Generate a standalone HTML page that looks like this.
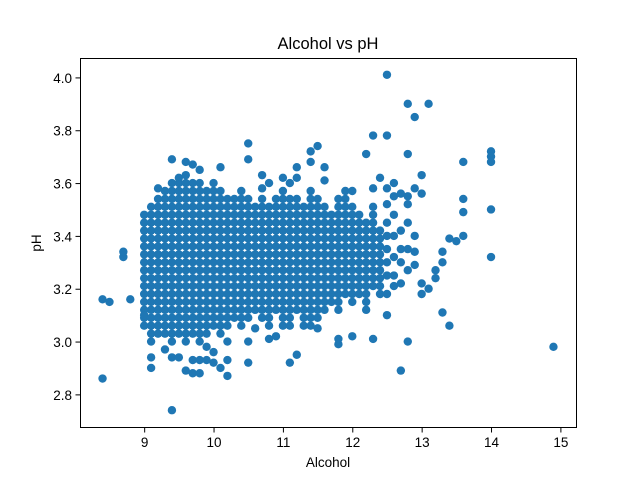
<!DOCTYPE html>
<html><head><meta charset="utf-8"><style>
body{margin:0;background:#fff}
svg{display:block;font-family:"Liberation Sans","DejaVu Sans",sans-serif}
</style></head><body>
<svg id="chart" width="640" height="480">
<rect width="640" height="480" fill="#fff"/>
<text x="328" y="49" font-size="16.5" text-anchor="middle">Alcohol vs pH</text>
<g id="marks"></g>
<rect x="80.5" y="58.5" width="496" height="369" fill="none" stroke="#000" stroke-width="1"/>
<g id="axes"></g>
<text x="328" y="467" font-size="13.5" text-anchor="middle">Alcohol</text>
<text transform="translate(41,243) rotate(-90)" font-size="13.5" text-anchor="middle">pH</text>
</svg>
<script>
const xTicks=[9,10,11,12,13,14,15];
const yTicks=[2.8,3.0,3.2,3.4,3.6,3.8,4.0];
const M=[300,303,306,309,312,315,318,321,324,327,330,333,336,339,342,345,348,351,354,357,360,363,366];
const alcoholCols=[8.4,8.5,8.7,8.8,9.0,9.1,9.2,9.3,9.4,9.5,9.6,9.7,9.8,9.9,10.0,10.1,10.2,10.3,10.4,10.5,10.6,10.7,10.8,10.9,11.0,11.1,11.2,11.3,11.4,11.5,11.6,11.7,11.8,11.9,12.0,12.1,12.2,12.3,12.4,12.5,12.6,12.7,12.8,12.9,13.0,13.1,13.2,13.3,13.4,13.5,13.6,14.0,14.9];
const pHCols=[
[286,316],[315],[332,334],[316],
M.slice(2,17).concat([310]),M.slice(0,18).concat([290,294]),M.slice(1,19).concat([358]),M.slice(1,20).concat([297]),
M.slice(0,21).concat([369,274,294]),M.slice(1,21).concat([362,294]),M.slice(0,22).concat([289,368]),M.slice(1,21).concat([367,288,293]),
M.slice(0,21).concat([365,288,293]),M.slice(1,20).concat([293,298]),M.slice(2,21).concat([296,292]),M.slice(1,20).concat([290,366]),
M.slice(2,19).concat([287,293,300]),M.slice(3,19),M.slice(2,20),M.slice(3,19).concat([292,369,375,300]),M.slice(4,18).concat([305]),
M.slice(3,19).concat([358,363]),M.slice(2,18).concat([301,360]),M.slice(4,19).concat([302]),M.slice(3,20).concat([362,306]),
M.slice(2,19).concat([292,360]),M.slice(4,19).concat([295,366,362]),M.slice(3,18).concat([306]),M.slice(2,20).concat([372,368]),
M.slice(3,19).concat([374,305]),M.slice(4,18).concat([366,361]),M.slice(5,17),M.slice(4,19).concat([299,301]),M.slice(6,20),
M.slice(5,18).concat([302,357]),M.slice(6,17),M.slice(4,16).concat([371]),M.slice(7,18).concat([378,301,358]),M.slice(6,15).concat([362]),
[401,378,358,352,345,340,330,318,310,325,335],[360,355,348,340,332,325,321],[289,356,342,330,322,335],
[390,371,300,352,345,335,327,355],[385,358,340,334,329],[363,356,322,318],[390,320],[324,327],[334,330,311],[306,339],[338],
[368,354,349,340],[372,370,368,350,332],[298]];
const L=80,R=576,T=58,Bt=427,x0=8.075,x1=15.225,y0=2.6765,y1=4.0735;
const sx=v=>L+(v-x0)/(x1-x0)*(R-L);
const sy=v=>Bt-(v-y0)/(y1-y0)*(Bt-T);
const NS="http://www.w3.org/2000/svg";
const marks=document.getElementById('marks');
alcoholCols.forEach((a,i)=>{pHCols[i].forEach(p=>{
 const c=document.createElementNS(NS,'circle');
 c.setAttribute('cx',sx(a));c.setAttribute('cy',sy(p/100));c.setAttribute('r',4.2);c.setAttribute('fill','#1f77b4');
 
 
 marks.appendChild(c);});});
const ax=document.getElementById('axes');
xTicks.forEach(t=>{const x=sx(t)+0.5;
 const l=document.createElementNS(NS,'line');l.setAttribute('x1',x);l.setAttribute('x2',x);l.setAttribute('y1',427.5);l.setAttribute('y2',432.5);l.setAttribute('stroke','#000');
 
 
 ax.appendChild(l);
 const tx=document.createElementNS(NS,'text');tx.setAttribute('x',x);tx.setAttribute('y',447);tx.setAttribute('font-size','13.5');tx.setAttribute('text-anchor','middle');tx.textContent=t;
 
 
 ax.appendChild(tx);});
yTicks.forEach(t=>{const y=sy(t)+0.5;
 const l=document.createElementNS(NS,'line');l.setAttribute('x1',75.5);l.setAttribute('x2',80.5);l.setAttribute('y1',y);l.setAttribute('y2',y);l.setAttribute('stroke','#000');
 
 
 ax.appendChild(l);
 const tx=document.createElementNS(NS,'text');tx.setAttribute('x',72);tx.setAttribute('y',y+5);tx.setAttribute('font-size','13.5');tx.setAttribute('text-anchor','end');tx.textContent=t.toFixed(1);
 
 
 ax.appendChild(tx);});
</script>
</body></html>
